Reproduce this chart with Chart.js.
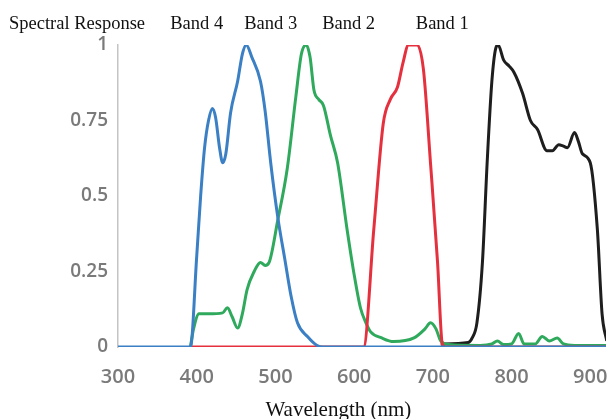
<!DOCTYPE html>
<html>
<head>
<meta charset="utf-8">
<script src="https://cdn.jsdelivr.net/npm/chart.js@4"></script>
<style>
  html, body { margin: 0; padding: 0; background: #fff; }
  #wrap { width: 607px; height: 419px; position: relative; }
</style>
</head>
<body>
<div id="wrap"><canvas id="chart"></canvas></div>
<script>
// tick labels
const xTicks = [300, 400, 500, 600, 700, 800, 900];
const yTicks = [0, 0.25, 0.5, 0.75, 1];
const bandNames = ['Band 4', 'Band 3', 'Band 2', 'Band 1'];

// Band 4 (blue)
const band4Wl = [300, 392, 400, 405, 410, 415, 420, 424, 429, 433, 437, 443, 452, 458, 463, 470, 481, 487, 494, 503, 512, 520, 528, 541, 553, 560, 920];
const band4Resp = [0, 0, 0.3, 0.5, 0.66, 0.75, 0.79, 0.76, 0.66, 0.61, 0.64, 0.775, 0.88, 0.97, 1.0, 0.96, 0.88, 0.78, 0.61, 0.43, 0.29, 0.167, 0.08, 0.034, 0.005, 0, 0];

// Band 3 (green)
const band3Wl = [392, 396, 403, 415, 433, 439, 445, 452, 458, 464, 473, 481, 487, 492, 503, 515, 526, 533, 539, 544, 549, 555, 561, 570, 579, 591, 600, 608, 615, 621, 635, 650, 676, 690, 697, 704, 710, 720, 760, 775, 782, 790, 800, 809, 816, 830, 839, 848, 858, 866, 880, 920];
const band3Resp = [0, 0.06, 0.11, 0.11, 0.113, 0.13, 0.1, 0.063, 0.11, 0.19, 0.25, 0.28, 0.27, 0.28, 0.42, 0.59, 0.83, 0.97, 1.0, 0.96, 0.85, 0.82, 0.80, 0.7, 0.61, 0.39, 0.24, 0.13, 0.08, 0.05, 0.03, 0.018, 0.03, 0.06, 0.08, 0.06, 0.02, 0.008, 0.005, 0.01, 0.02, 0.008, 0.01, 0.045, 0.01, 0.01, 0.035, 0.02, 0.03, 0.01, 0.005, 0.005];

// Band 2 (red)
const band2Wl = [392, 612, 625, 637, 646, 655, 662, 669, 680, 688, 697, 706, 712, 716, 920];
const band2Resp = [0, 0, 0.39, 0.74, 0.82, 0.86, 0.94, 1.0, 1.0, 0.92, 0.61, 0.28, 0.01, 0, 0];

// Band 1 (black)
const band1Wl = [710, 745, 750, 756, 763, 769, 775, 780, 783, 790, 797, 803, 814, 824, 833, 845, 852, 860, 866, 871, 880, 885, 890, 900, 909, 915, 921];
const band1Resp = [0.01, 0.015, 0.03, 0.08, 0.28, 0.61, 0.88, 0.99, 1.0, 0.95, 0.93, 0.91, 0.84, 0.75, 0.72, 0.65, 0.65, 0.67, 0.665, 0.66, 0.71, 0.68, 0.64, 0.61, 0.39, 0.11, 0.02];

// where the band names sit along the wavelength axis
const bandLabelX = [400, 494, 593, 712];
const xTitleAt = 580;

function pts(wl, r) {
  return wl.map((w, i) => ({ x: w, y: r[i] }));
}

function line(label, wl, r, color, order) {
  return {
    label: label,
    data: pts(wl, r),
    borderColor: color,
    borderWidth: 3,
    pointRadius: 0,
    fill: false,
    cubicInterpolationMode: 'monotone',
    order: order
  };
}

const textPlugin = {
  id: 'textLabels',
  afterDraw(chart) {
    const ctx = chart.ctx;
    const xs = chart.scales.x;
    ctx.save();
    ctx.fillStyle = '#111';
    ctx.textAlign = 'center';
    ctx.textBaseline = 'alphabetic';
    ctx.font = '18.5px "Liberation Serif", "Times New Roman", serif';
    ctx.fillText('Spectral Response', 77, 29);
    bandNames.forEach((n, i) => {
      ctx.fillText(n, xs.getPixelForValue(bandLabelX[i]), 29);
    });
    ctx.font = '21px "Liberation Serif", "Times New Roman", serif';
    ctx.fillText('Wavelength (nm)', xs.getPixelForValue(xTitleAt), 416);
    ctx.restore();
  }
};

new Chart(document.getElementById('chart'), {
  type: 'line',
  data: {
    datasets: [
      line('Band 4', band4Wl, band4Resp, '#3b7fc4', 0),
      line('Band 2', band2Wl, band2Resp, '#e5303e', 1),
      line('Band 3', band3Wl, band3Resp, '#2fa95c', 2),
      line('Band 1', band1Wl, band1Resp, '#1e1e1e', 3)
    ]
  },
  options: {
    responsive: true,
    maintainAspectRatio: false,
    animation: false,
    layout: { padding: { top: 45, right: 1, left: 0, bottom: 0 } },
    plugins: {
      legend: { display: false },
      tooltip: { enabled: false }
    },
    scales: {
      x: {
        type: 'linear',
        min: 300,
        max: 920,
        grid: { display: false, drawTicks: false },
        border: { display: false },
        afterBuildTicks: s => { s.ticks = xTicks.map(v => ({ value: v })); },
        afterFit: s => { s.height = 72; s.paddingLeft = 0; s.paddingRight = 0; },
        ticks: {
          padding: 18,
          color: '#7a7a7a',
          font: { family: 'Open Sans', size: 20, weight: '600' }
        }
      },
      y: {
        min: 0,
        max: 1,
        grid: { display: false, drawTicks: false },
        border: { display: true, color: '#c4c4c4', width: 1.5 },
        afterBuildTicks: s => { s.ticks = yTicks.map(v => ({ value: v })); },
        afterFit: s => { s.width = 118; s.paddingTop = 0; s.paddingBottom = 0; },
        ticks: {
          padding: 10,
          color: '#7a7a7a',
          font: { family: 'Open Sans', size: 19, weight: '600' },
          callback: v => String(v)
        }
      }
    }
  },
  plugins: [textPlugin]
});
</script>
</body>
</html>
